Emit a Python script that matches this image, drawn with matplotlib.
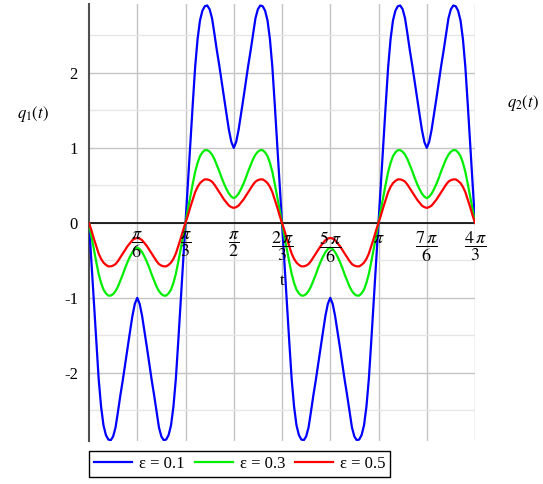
import numpy as np
import matplotlib
matplotlib.use('Agg')
from matplotlib import pyplot as plt

# sample grid along t, in units of pi/6 (0 .. 8, i.e. 0 .. 4*pi/3), step 0.05
t_sixths = np.linspace(0, 8, 161)

# values, one row per quarter period
q_eps01 = [
    0, -0.52, -1.05, -1.58, -2.08, -2.45, -2.7, -2.83, -2.89, -2.9,
    -2.85, -2.73, -2.52, -2.3, -2.1, -1.88, -1.66, -1.45, -1.24, -1.08,
    -1.0, -1.08, -1.24, -1.45, -1.66, -1.88, -2.1, -2.3, -2.52, -2.73,
    -2.85, -2.9, -2.89, -2.83, -2.7, -2.45, -2.08, -1.58, -1.05, -0.52,
    0, 0.52, 1.05, 1.58, 2.08, 2.45, 2.7, 2.83, 2.89, 2.9,
    2.85, 2.73, 2.52, 2.3, 2.1, 1.88, 1.66, 1.45, 1.24, 1.08,
    1.0, 1.08, 1.24, 1.45, 1.66, 1.88, 2.1, 2.3, 2.52, 2.73,
    2.85, 2.9, 2.89, 2.83, 2.7, 2.45, 2.08, 1.58, 1.05, 0.52,
    0, -0.52, -1.05, -1.58, -2.08, -2.45, -2.7, -2.83, -2.89, -2.9,
    -2.85, -2.73, -2.52, -2.3, -2.1, -1.88, -1.66, -1.45, -1.24, -1.08,
    -1.0, -1.08, -1.24, -1.45, -1.66, -1.88, -2.1, -2.3, -2.52, -2.73,
    -2.85, -2.9, -2.89, -2.83, -2.7, -2.45, -2.08, -1.58, -1.05, -0.52,
    0, 0.52, 1.05, 1.58, 2.08, 2.45, 2.7, 2.83, 2.89, 2.9,
    2.85, 2.73, 2.52, 2.3, 2.1, 1.88, 1.66, 1.45, 1.24, 1.08,
    1.0, 1.08, 1.24, 1.45, 1.66, 1.88, 2.1, 2.3, 2.52, 2.73,
    2.85, 2.9, 2.89, 2.83, 2.7, 2.45, 2.08, 1.58, 1.05, 0.52,
    0]
q_eps03 = [
    0, -0.18, -0.35, -0.52, -0.68, -0.8, -0.89, -0.94, -0.97, -0.97,
    -0.95, -0.91, -0.85, -0.77, -0.69, -0.6, -0.52, -0.45, -0.39, -0.35,
    -0.33, -0.35, -0.39, -0.45, -0.52, -0.6, -0.69, -0.77, -0.85, -0.91,
    -0.95, -0.97, -0.97, -0.94, -0.89, -0.8, -0.68, -0.52, -0.35, -0.18,
    0, 0.18, 0.35, 0.52, 0.68, 0.8, 0.89, 0.94, 0.97, 0.97,
    0.95, 0.91, 0.85, 0.77, 0.69, 0.6, 0.52, 0.45, 0.39, 0.35,
    0.33, 0.35, 0.39, 0.45, 0.52, 0.6, 0.69, 0.77, 0.85, 0.91,
    0.95, 0.97, 0.97, 0.94, 0.89, 0.8, 0.68, 0.52, 0.35, 0.18,
    0, -0.18, -0.35, -0.52, -0.68, -0.8, -0.89, -0.94, -0.97, -0.97,
    -0.95, -0.91, -0.85, -0.77, -0.69, -0.6, -0.52, -0.45, -0.39, -0.35,
    -0.33, -0.35, -0.39, -0.45, -0.52, -0.6, -0.69, -0.77, -0.85, -0.91,
    -0.95, -0.97, -0.97, -0.94, -0.89, -0.8, -0.68, -0.52, -0.35, -0.18,
    0, 0.18, 0.35, 0.52, 0.68, 0.8, 0.89, 0.94, 0.97, 0.97,
    0.95, 0.91, 0.85, 0.77, 0.69, 0.6, 0.52, 0.45, 0.39, 0.35,
    0.33, 0.35, 0.39, 0.45, 0.52, 0.6, 0.69, 0.77, 0.85, 0.91,
    0.95, 0.97, 0.97, 0.94, 0.89, 0.8, 0.68, 0.52, 0.35, 0.18,
    0]
q_eps05 = [
    0, -0.1, -0.21, -0.31, -0.41, -0.48, -0.53, -0.56, -0.58, -0.58,
    -0.57, -0.55, -0.51, -0.46, -0.41, -0.36, -0.31, -0.27, -0.23, -0.21,
    -0.2, -0.21, -0.23, -0.27, -0.31, -0.36, -0.41, -0.46, -0.51, -0.55,
    -0.57, -0.58, -0.58, -0.56, -0.53, -0.48, -0.41, -0.31, -0.21, -0.1,
    0, 0.1, 0.21, 0.31, 0.41, 0.48, 0.53, 0.56, 0.58, 0.58,
    0.57, 0.55, 0.51, 0.46, 0.41, 0.36, 0.31, 0.27, 0.23, 0.21,
    0.2, 0.21, 0.23, 0.27, 0.31, 0.36, 0.41, 0.46, 0.51, 0.55,
    0.57, 0.58, 0.58, 0.56, 0.53, 0.48, 0.41, 0.31, 0.21, 0.1,
    0, -0.1, -0.21, -0.31, -0.41, -0.48, -0.53, -0.56, -0.58, -0.58,
    -0.57, -0.55, -0.51, -0.46, -0.41, -0.36, -0.31, -0.27, -0.23, -0.21,
    -0.2, -0.21, -0.23, -0.27, -0.31, -0.36, -0.41, -0.46, -0.51, -0.55,
    -0.57, -0.58, -0.58, -0.56, -0.53, -0.48, -0.41, -0.31, -0.21, -0.1,
    0, 0.1, 0.21, 0.31, 0.41, 0.48, 0.53, 0.56, 0.58, 0.58,
    0.57, 0.55, 0.51, 0.46, 0.41, 0.36, 0.31, 0.27, 0.23, 0.21,
    0.2, 0.21, 0.23, 0.27, 0.31, 0.36, 0.41, 0.46, 0.51, 0.55,
    0.57, 0.58, 0.58, 0.56, 0.53, 0.48, 0.41, 0.31, 0.21, 0.1,
    0]

series_labels = ['ε = 0.1', 'ε = 0.3', 'ε = 0.5']
series_colors = ['#0000ff', '#00ee00', '#ff0000']

x_tick_sixths = [1, 2, 3, 4, 5, 6, 7, 8]
x_tick_labels = [r'$\dfrac{\pi}{6}$', r'$\dfrac{\pi}{3}$', r'$\dfrac{\pi}{2}$',
                 r'$\dfrac{2\,\pi}{3}$', r'$\dfrac{5\,\pi}{6}$', r'$\pi$',
                 r'$\dfrac{7\,\pi}{6}$', r'$\dfrac{4\,\pi}{3}$']
y_ticks = [-2, -1, 0, 1, 2]
y_tick_labels = ['-2', '-1', '0', '1', '2']
y_minor = [-2.5, -1.5, -0.5, 0.5, 1.5, 2.5]

plt.rcParams['font.family'] = ['Liberation Serif', 'DejaVu Serif']
plt.rcParams['mathtext.fontset'] = 'stix'

fig = plt.figure(figsize=(5.43, 4.84), dpi=100)
ax = fig.add_axes([89 / 543, 43 / 484, 386 / 543, 437 / 484])

t = t_sixths * np.pi / 6
for q, lab, col in zip([q_eps01, q_eps03, q_eps05], series_labels, series_colors):
    ax.plot(t, q, color=col, lw=1.6, label=lab, zorder=3)

ax.set_xlim(0, 4 * np.pi / 3)
ax.set_ylim(-2.91, 2.92)

for s in ['top', 'right', 'bottom']:
    ax.spines[s].set_visible(False)
ax.spines['left'].set_color('#505050')
ax.spines['left'].set_linewidth(1.5)
ax.axhline(0, color='black', lw=1.2, zorder=2)

x_ticks = [k * np.pi / 6 for k in x_tick_sixths]
ax.set_xticks(x_ticks)
ax.tick_params(axis='x', length=0, labelbottom=False)
ax.set_yticks(y_ticks, y_tick_labels)
ax.set_yticks(y_minor, minor=True)
ax.tick_params(axis='y', which='both', length=0, pad=8, labelsize=12)
ax.grid(True, which='major', color='#c4c4c4', lw=1.0, zorder=0)
ax.grid(True, which='minor', axis='y', color='#e6e6e6', lw=1.0, zorder=0)

# tick labels sit on the t axis (y = 0), as in the original
for xv, lab in zip(x_ticks, x_tick_labels):
    ax.annotate(lab, xy=(xv, 0), xytext=(0, -5), textcoords='offset points',
                ha='center', va='top', fontsize=13, zorder=4)
ax.annotate('t', xy=(0.5, 0), xycoords=('axes fraction', 'data'),
            xytext=(0, -42), textcoords='offset points',
            ha='center', va='center', fontsize=12)

fig.text(33 / 543, 1 - 114 / 484, r'$q_1(t)$', ha='center', va='center', fontsize=12)
fig.text(523 / 543, 1 - 103 / 484, r'$q_2(t)$', ha='center', va='center', fontsize=12)

leg = ax.legend(loc='lower left', bbox_to_anchor=(89 / 543, 7 / 484),
                bbox_transform=fig.transFigure, ncol=3, fontsize=12,
                frameon=True, fancybox=False, framealpha=1, edgecolor='black',
                handlelength=2.3, handletextpad=0.4, columnspacing=0.6,
                borderpad=0.3, borderaxespad=0)
leg.get_frame().set_linewidth(1.0)

fig.savefig('out.png', dpi=100)
